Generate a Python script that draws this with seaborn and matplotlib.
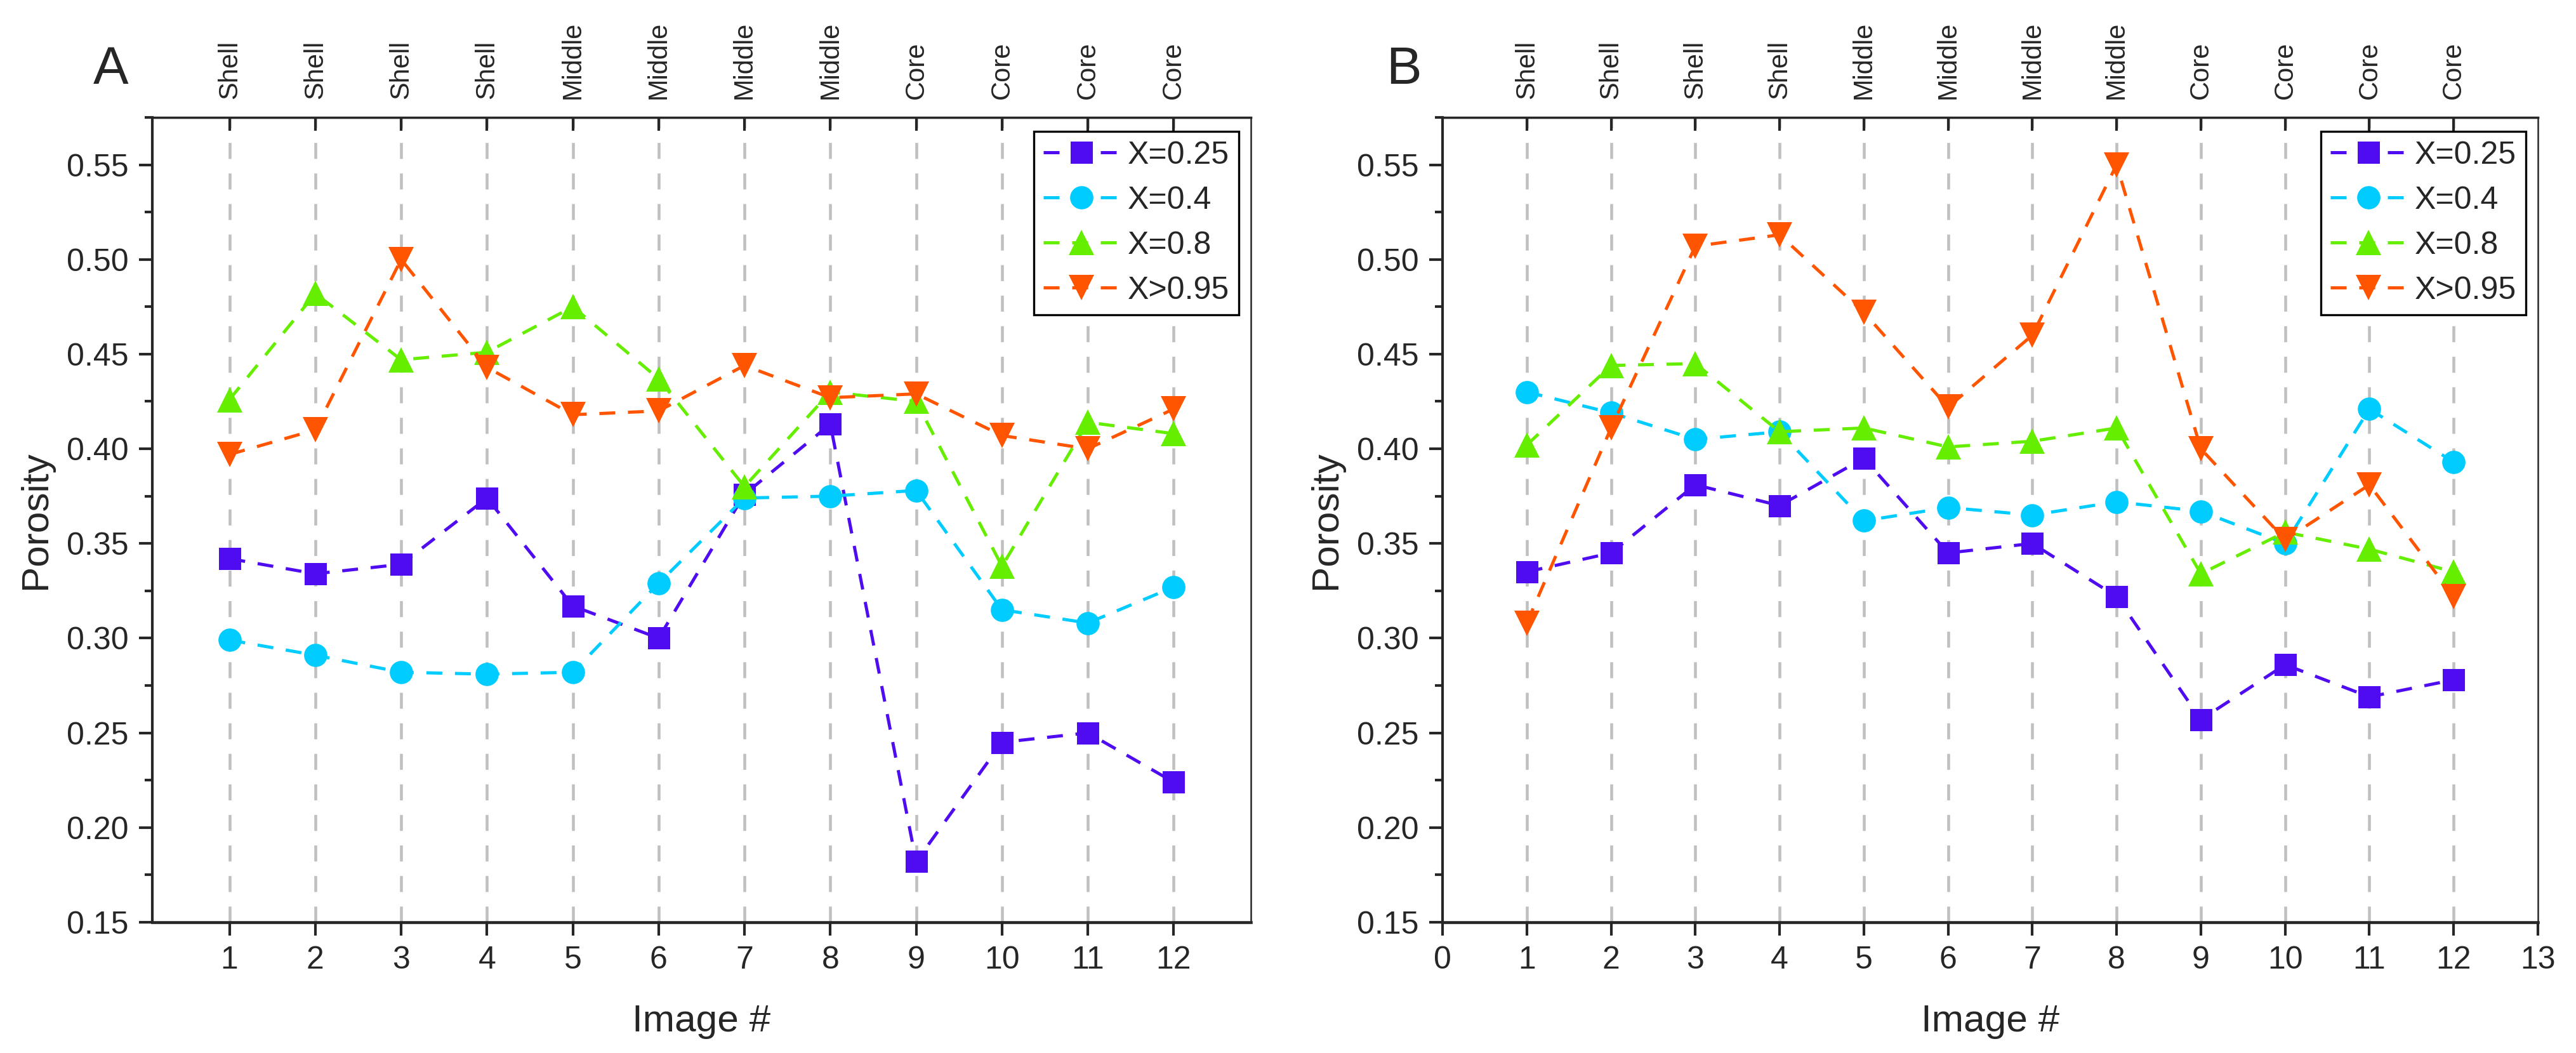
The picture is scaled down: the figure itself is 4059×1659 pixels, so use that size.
import pandas as pd
import matplotlib.pyplot as plt
import seaborn as sns
from matplotlib.ticker import MultipleLocator

# data
image_no = list(range(1, 13))
region = ["Shell"] * 4 + ["Middle"] * 4 + ["Core"] * 4
series_names = ["X=0.25", "X=0.4", "X=0.8", "X>0.95"]

# panel A
a_x025 = [0.342, 0.334, 0.339, 0.374, 0.317, 0.300, 0.376, 0.413, 0.182, 0.245, 0.250, 0.224]
a_x04 = [0.299, 0.291, 0.282, 0.281, 0.282, 0.329, 0.374, 0.375, 0.378, 0.315, 0.308, 0.327]
a_x08 = [0.426, 0.482, 0.447, 0.451, 0.475, 0.437, 0.380, 0.430, 0.425, 0.338, 0.414, 0.408]
a_x095 = [0.397, 0.410, 0.500, 0.443, 0.418, 0.420, 0.444, 0.427, 0.429, 0.407, 0.400, 0.421]

# panel B
b_x025 = [0.335, 0.345, 0.381, 0.370, 0.395, 0.345, 0.350, 0.322, 0.257, 0.286, 0.269, 0.278]
b_x04 = [0.430, 0.419, 0.405, 0.409, 0.362, 0.369, 0.365, 0.372, 0.367, 0.350, 0.421, 0.393]
b_x08 = [0.402, 0.444, 0.445, 0.409, 0.411, 0.401, 0.404, 0.411, 0.334, 0.356, 0.347, 0.335]
b_x095 = [0.308, 0.411, 0.507, 0.513, 0.472, 0.422, 0.460, 0.550, 0.400, 0.352, 0.381, 0.322]

colors = ["#4F0CF0", "#00CCFF", "#66EE00", "#FF5500"]
markers = ["s", "o", "^", "v"]
msizes = [8.4, 8.8, 9.4, 9.4]


def long_form(vals):
    rows = []
    for name, v in zip(series_names, vals):
        for x, y in zip(image_no, v):
            rows.append({"Image": x, "Porosity": y, "Series": name})
    return pd.DataFrame(rows)


df_a = long_form([a_x025, a_x04, a_x08, a_x095])
df_b = long_form([b_x025, b_x04, b_x08, b_x095])

sns.set_style("ticks")
plt.rcParams["font.family"] = ["Liberation Sans", "DejaVu Sans"]
plt.rcParams["axes.linewidth"] = 1.0

fig = plt.figure(figsize=(4059 / 300, 1659 / 300), dpi=300)
ax_a = fig.add_axes([0.0591, 0.1242, 0.4265, 0.7643])
ax_b = fig.add_axes([0.5600, 0.1242, 0.4252, 0.7643])


def draw_panel(ax, df, xlim, bottom_ticks, letter, letter_x):
    for x in image_no:
        ax.axvline(x, color="#c0c0c0", lw=1.1, linestyle=(0, (5.5, 5.0)), zorder=0)

    for name, c, m, ms in zip(series_names, colors, markers, msizes):
        sub = df[df["Series"] == name]
        sns.lineplot(data=sub, x="Image", y="Porosity", ax=ax, color=c,
                     marker=m, markersize=ms, markeredgewidth=0,
                     linestyle=(0, (5, 4)), lw=1.2, label=name,
                     estimator=None, errorbar=None, legend=False)

    ax.set_xlim(*xlim)
    ax.set_ylim(0.15, 0.575)
    ax.set_xticks(bottom_ticks)
    ax.set_xticklabels([str(t) for t in bottom_ticks])
    ax.yaxis.set_major_locator(MultipleLocator(0.05))
    ax.yaxis.set_minor_locator(MultipleLocator(0.025))
    ax.yaxis.set_major_formatter(plt.FuncFormatter(lambda v, p: f"{v:.2f}"))
    ax.tick_params(axis="both", which="major", labelsize=12, length=5, width=1.0,
                   direction="out", pad=4)
    ax.tick_params(axis="y", which="minor", length=3, width=1.0, direction="out")
    ax.set_xlabel("Image #", fontsize=14.5, labelpad=11)
    ax.set_ylabel("Porosity", fontsize=14.5, labelpad=5)

    top = ax.secondary_xaxis("top")
    top.set_xticks(image_no)
    top.set_xticklabels(region, rotation=90, fontsize=10)
    top.tick_params(direction="in", length=5, width=1.0, pad=7)
    top.spines["top"].set_linewidth(0.8)
    ax.spines["right"].set_linewidth(0.6)
    ax.spines["top"].set_linewidth(0.8)
    ax.spines["bottom"].set_linewidth(1.1)

    leg = ax.legend(loc="upper right", bbox_to_anchor=(0.989, 0.983),
                    borderaxespad=0, fontsize=12, frameon=True, fancybox=False,
                    edgecolor="black", framealpha=1, handlelength=2.4,
                    handletextpad=0.25, labelspacing=0.5, borderpad=0.3)
    leg.get_frame().set_linewidth(0.8)

    fig.text(letter_x, 1 - 110 / 1659, letter, fontsize=20, ha="center", va="center")


draw_panel(ax_a, df_a, (0.1, 12.9), image_no, "A", 175 / 4059)
draw_panel(ax_b, df_b, (0, 13), list(range(0, 14)), "B", 2212 / 4059)

fig.savefig("out.png", dpi=300)
